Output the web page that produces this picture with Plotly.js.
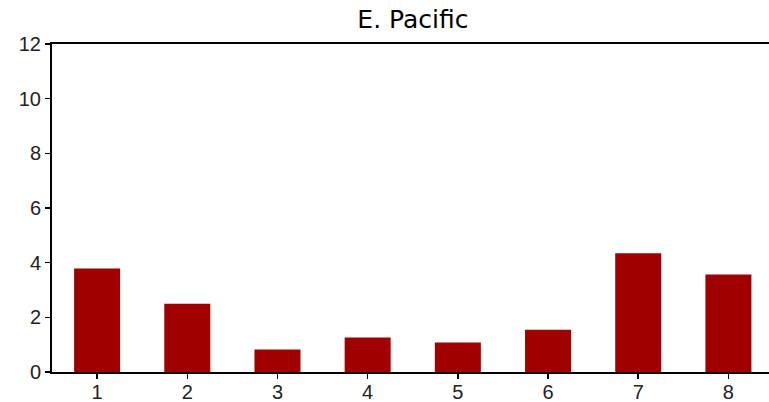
<!DOCTYPE html>
<html>
<head>
<meta charset="utf-8">
<script src="https://cdn.plot.ly/plotly-3.0.1.min.js"></script>
<style>html,body{margin:0;padding:0;background:#fff;}#chart{width:769px;height:402px;}</style>
</head>
<body>
<div id="chart"></div>
<script>
const categories = [1, 2, 3, 4, 5, 6, 7, 8];
const values = [3.79, 2.50, 0.82, 1.26, 1.08, 1.55, 4.34, 3.57];
const yTicks = [0, 2, 4, 6, 8, 10, 12];
const chartTitle = "E. Pacific";

const trace = {
  type: 'bar',
  x: categories,
  y: values,
  width: 0.51,
  marker: {color: '#a00000', line: {width: 0}},
  hoverinfo: 'skip'
};

const layout = {
  width: 769,
  height: 402,
  margin: {l: 52, r: 0, t: 44, b: 30, pad: 0},
  paper_bgcolor: '#fff',
  plot_bgcolor: '#fff',
  showlegend: false,
  font: {family: 'Liberation Sans, Arial, sans-serif', color: '#000', size: 20},
  title: {
    text: chartTitle,
    font: {family: 'DejaVu Sans, sans-serif', size: 25, color: '#000'},
    x: 0.537, xanchor: 'center', y: 0.975, yanchor: 'top'
  },
  xaxis: {
    range: [0.5, 8.45],
    tickmode: 'array',
    tickvals: categories,
    ticktext: categories.map(String),
    ticks: 'outside', ticklen: 5, tickwidth: 1.5, tickcolor: '#000',
    ticklabelstandoff: -4,
    showline: true, linecolor: '#000', linewidth: 2, mirror: true,
    showgrid: false, zeroline: false,
    tickfont: {size: 20, color: '#222'},
    fixedrange: true
  },
  yaxis: {
    range: [0, 12],
    tickmode: 'array',
    tickvals: yTicks,
    ticktext: yTicks.map(String),
    ticks: 'outside', ticklen: 5, tickwidth: 1.5, tickcolor: '#000',
    showline: true, linecolor: '#000', linewidth: 2, mirror: false,
    showgrid: false, zeroline: false,
    tickfont: {size: 20, color: '#222'},
    fixedrange: true
  }
};

Plotly.newPlot('chart', [trace], layout, {staticPlot: true, displayModeBar: false});
</script>
</body>
</html>
